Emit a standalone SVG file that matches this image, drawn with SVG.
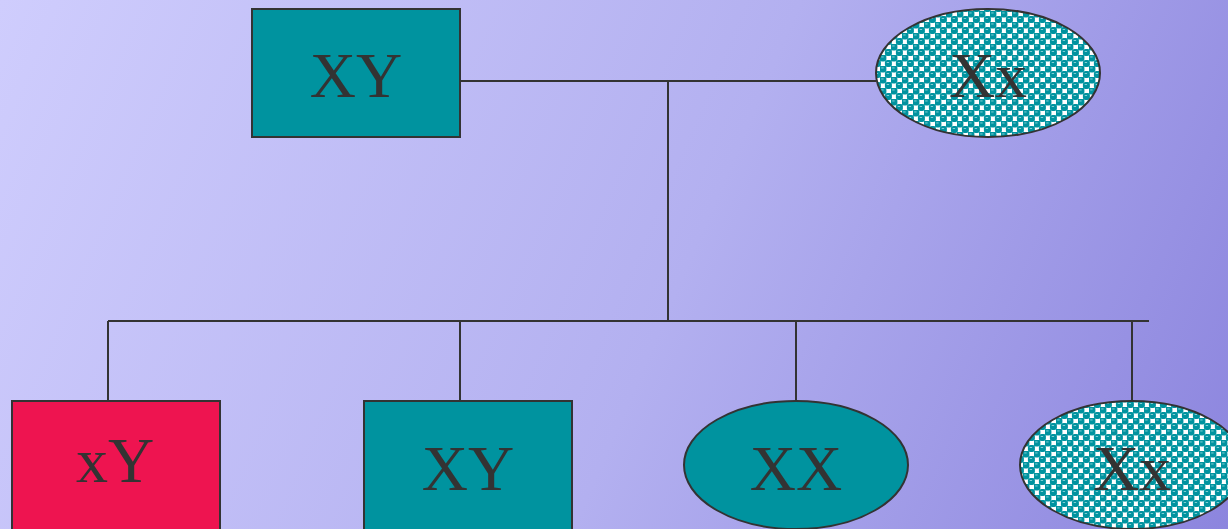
<svg xmlns="http://www.w3.org/2000/svg" width="1228" height="529" viewBox="0 0 1228 529">
<defs>
<linearGradient id="bg" x1="0" y1="0" x2="1228" y2="529" gradientUnits="userSpaceOnUse">
<stop offset="0" stop-color="#cfcdfd"/>
<stop offset="0.55" stop-color="#b3b0f0"/>
<stop offset="1" stop-color="#8c85de"/>
</linearGradient>
<pattern id="chk" width="11" height="11" patternUnits="userSpaceOnUse">
<rect width="11" height="11" fill="#ffffff"/>
<rect x="-0.6" y="-0.6" width="7" height="7" rx="2.6" fill="#00939f"/>
<rect x="4.9" y="4.9" width="7" height="7" rx="2.6" fill="#00939f"/>
<rect x="-6.1" y="4.9" width="7" height="7" rx="2.6" fill="#00939f"/>
<rect x="4.9" y="-6.1" width="7" height="7" rx="2.6" fill="#00939f"/>
<rect x="1.2" y="1.5" width="2.4" height="0.9" fill="#8fd6dc"/>
<rect x="6.7" y="7.0" width="2.4" height="0.9" fill="#8fd6dc"/>
</pattern>
<style>
.box{stroke:#333;stroke-width:2}
.teal{fill:#00939f}
.red{fill:#ee1450}
.pat{fill:url(#chk)}
.lbl{font-family:"Liberation Serif","Times New Roman",serif;font-size:64px;fill:#333;text-anchor:middle}
.ln{stroke:#333;stroke-width:2;fill:none}
</style>
</defs>
<rect width="1228" height="529" fill="url(#bg)"/>
<g id="connectors">
<path class="ln" d="M460 81H876"/>
<path class="ln" d="M668 81V321"/>
<path class="ln" d="M108 321H1149"/>
<path class="ln" d="M108 321V401"/>
<path class="ln" d="M460 321V401"/>
<path class="ln" d="M796 321V401"/>
<path class="ln" d="M1132 321V401"/>
</g>
<g id="father">
<rect class="box teal" x="252" y="9" width="208" height="128"/>
<text class="lbl" x="356" y="97">XY</text>
</g>
<g id="mother">
<ellipse class="box pat" cx="988" cy="73" rx="112" ry="64"/>
<text class="lbl" x="988" y="97">Xx</text>
</g>
<g id="child1">
<rect class="box red" x="12" y="401" width="208" height="140"/>
<text class="lbl" x="115" y="482">xY</text>
</g>
<g id="child2">
<rect class="box teal" x="364" y="401" width="208" height="140"/>
<text class="lbl" x="468" y="490">XY</text>
</g>
<g id="child3">
<ellipse class="box teal" cx="796" cy="465" rx="112" ry="64"/>
<text class="lbl" x="796" y="490">XX</text>
</g>
<g id="child4">
<ellipse class="box pat" cx="1132" cy="465" rx="112" ry="64"/>
<text class="lbl" x="1132" y="490">Xx</text>
</g>
</svg>
